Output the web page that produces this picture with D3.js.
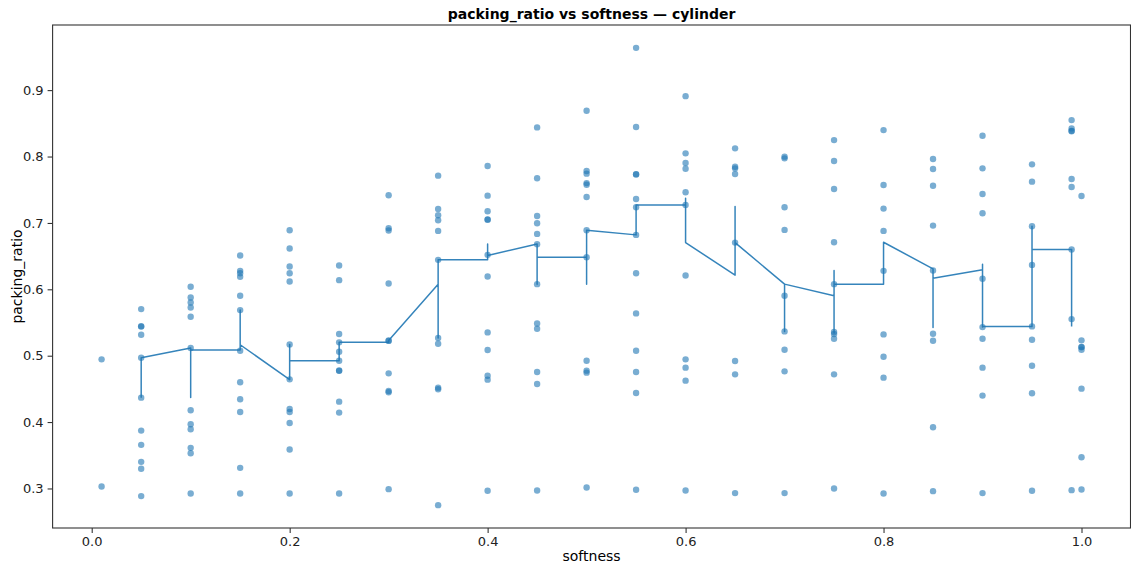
<!DOCTYPE html>
<html>
<head>
<meta charset="utf-8">
<script src="https://cdn.jsdelivr.net/npm/d3@7"></script>
<style>
  html, body { margin: 0; padding: 0; background: #fff; }
  svg { display: block; font-family: "DejaVu Sans", sans-serif; }
</style>
</head>
<body>
<svg id="chart" width="1131" height="567"></svg>
<script>
// Softness levels that were sampled
const softnessLevels = [0.01, 0.05, 0.10, 0.15, 0.20, 0.25, 0.30, 0.35, 0.40, 0.45, 0.50,
                        0.55, 0.60, 0.65, 0.70, 0.75, 0.80, 0.85, 0.90, 0.95, 0.99, 1.00];

// Measured packing ratios, one list per softness level
const packingRatios = [
  [0.4945, 0.3030],
  [0.5702, 0.5445, 0.5438, 0.5316, 0.4970, 0.4368, 0.3872, 0.3657, 0.3401, 0.3296, 0.2885],
  [0.6038, 0.5877, 0.5802, 0.5727, 0.5587, 0.5115, 0.4178, 0.3967, 0.3892, 0.3612, 0.3531, 0.2925],
  [0.6509, 0.6278, 0.6243, 0.6188, 0.5902, 0.5687, 0.5075, 0.4599, 0.4343, 0.4153, 0.3311, 0.2925],
  [0.6890, 0.6614, 0.6343, 0.6243, 0.6118, 0.5170, 0.4644, 0.4198, 0.4153, 0.3987, 0.3587, 0.2925],
  [0.6358, 0.6138, 0.5326, 0.5201, 0.5060, 0.4925, 0.4778, 0.4772, 0.4308, 0.4143, 0.2925],
  [0.7416, 0.6920, 0.6885, 0.6088, 0.5229, 0.5223, 0.4734, 0.4469, 0.4449, 0.2990],
  [0.7712, 0.7211, 0.7116, 0.7040, 0.6880, 0.6444, 0.5266, 0.5181, 0.4519, 0.4494, 0.2749],
  [0.7857, 0.7411, 0.7175, 0.7053, 0.7047, 0.6519, 0.6193, 0.5351, 0.5085, 0.4699, 0.4639, 0.2965],
  [0.8439, 0.7672, 0.7105, 0.6995, 0.6835, 0.6679, 0.6078, 0.5486, 0.5406, 0.4755, 0.4574, 0.2970],
  [0.8689, 0.7782, 0.7742, 0.7600, 0.7575, 0.7391, 0.6890, 0.6484, 0.4925, 0.4775, 0.4745, 0.3015],
  [0.9637, 0.8444, 0.7735, 0.7729, 0.7361, 0.7236, 0.6820, 0.6243, 0.5637, 0.5075, 0.4755, 0.4439, 0.2980],
  [0.8910, 0.8048, 0.7902, 0.7817, 0.7461, 0.7271, 0.6208, 0.4945, 0.4820, 0.4624, 0.2970],
  [0.8123, 0.7847, 0.7822, 0.7737, 0.6704, 0.4920, 0.4719, 0.2930],
  [0.7998, 0.7973, 0.7236, 0.6895, 0.5902, 0.5366, 0.5090, 0.4764, 0.2930],
  [0.8248, 0.7932, 0.7511, 0.6709, 0.6078, 0.5356, 0.5326, 0.5256, 0.4719, 0.3000],
  [0.8398, 0.7571, 0.7216, 0.6880, 0.6278, 0.5321, 0.4985, 0.4669, 0.2925],
  [0.7962, 0.7812, 0.7561, 0.6960, 0.6283, 0.5331, 0.5226, 0.3922, 0.2960],
  [0.8313, 0.7822, 0.7436, 0.7145, 0.6158, 0.5431, 0.5256, 0.4820, 0.4399, 0.2930],
  [0.7882, 0.7622, 0.6950, 0.6368, 0.5441, 0.5241, 0.4849, 0.4434, 0.2965],
  [0.8549, 0.8424, 0.8387, 0.8381, 0.7662, 0.7541, 0.6599, 0.5551, 0.2975],
  [0.7406, 0.5231, 0.5133, 0.5127, 0.5090, 0.4504, 0.3471, 0.2985]
];

// Running-average trend traced through the runs in softness order
const trendSoftness = [
  0.05, 0.05,
  0.10, 0.10, 0.10,
  0.15, 0.15, 0.15,
  0.20, 0.20, 0.20,
  0.25, 0.25,
  0.30, 0.30,
  0.35, 0.35, 0.35,
  0.40, 0.40, 0.40,
  0.45, 0.45, 0.45,
  0.50, 0.50, 0.50,
  0.55, 0.55,
  0.60, 0.60, 0.60,
  0.65, 0.65, 0.65,
  0.70, 0.70, 0.70,
  0.75, 0.75, 0.75, 0.75,
  0.80, 0.80,
  0.85, 0.85, 0.85,
  0.90, 0.90, 0.90, 0.90,
  0.95, 0.95, 0.95,
  0.99, 0.99
];
const trendRatio = [
  0.4368, 0.4970,
  0.5116, 0.4370, 0.5086,
  0.5086, 0.5687, 0.5165,
  0.4639, 0.5170, 0.4925,
  0.4925, 0.5201,
  0.5201, 0.5230,
  0.6078, 0.5266, 0.6444,
  0.6444, 0.6684, 0.6509,
  0.6684, 0.6078, 0.6484,
  0.6484, 0.6078, 0.6890,
  0.6820, 0.7271,
  0.7271, 0.7371, 0.6704,
  0.6213, 0.7246, 0.6704,
  0.6078, 0.5366, 0.6078,
  0.5902, 0.5341, 0.6283, 0.6078,
  0.6078, 0.6709,
  0.6308, 0.5426, 0.6168,
  0.6293, 0.6378, 0.5431, 0.5441,
  0.5441, 0.6950, 0.6599,
  0.6599, 0.5441
];

const xTicks = [0.0, 0.2, 0.4, 0.6, 0.8, 1.0];
const yTicks = [0.3, 0.4, 0.5, 0.6, 0.7, 0.8, 0.9];

const W = 1131, H = 567;
const plot = { left: 52.6, right: 1130.5, top: 25, bottom: 528 };
const blue = "#1f77b4";

const points = softnessLevels.flatMap((s, i) => packingRatios[i].map(r => ({ s, r })));

// Axis limits padded by 5% of the data span on each side
function padded(ext) {
  const m = (ext[1] - ext[0]) * 0.05;
  return [ext[0] - m, ext[1] + m];
}
const x = d3.scaleLinear()
  .domain(padded(d3.extent(points, d => d.s)))
  .range([plot.left, plot.right]);
const y = d3.scaleLinear()
  .domain(padded(d3.extent(points, d => d.r)))
  .range([plot.bottom, plot.top]);

const svg = d3.select("#chart");
svg.append("rect").attr("width", W).attr("height", H).attr("fill", "#fff");

// Scatter of every run
svg.append("g")
  .selectAll("circle")
  .data(points)
  .join("circle")
  .attr("cx", d => x(d.s))
  .attr("cy", d => y(d.r))
  .attr("r", 3.2)
  .attr("fill", blue)
  .attr("fill-opacity", 0.6);

// Trend line
const trend = trendSoftness.map((s, i) => [s, trendRatio[i]]);
svg.append("path")
  .datum(trend)
  .attr("fill", "none")
  .attr("stroke", blue)
  .attr("stroke-width", 1.5)
  .attr("stroke-opacity", 0.9)
  .attr("stroke-linejoin", "round")
  .attr("d", d3.line().x(d => x(d[0])).y(d => y(d[1])));

// Axes
const fmt = d3.format(".1f");
const xAxis = svg.append("g")
  .attr("transform", `translate(0,${plot.bottom})`)
  .call(d3.axisBottom(x).tickValues(xTicks).tickFormat(fmt).tickSize(5).tickPadding(4));
const yAxis = svg.append("g")
  .attr("transform", `translate(${plot.left},0)`)
  .call(d3.axisLeft(y).tickValues(yTicks).tickFormat(fmt).tickSize(5).tickPadding(4));

[xAxis, yAxis].forEach(g => {
  g.select(".domain").remove();
  g.selectAll(".tick line").attr("stroke", "#222");
  g.selectAll(".tick text").attr("fill", "#222")
    .style("font-family", '"DejaVu Sans", sans-serif').style("font-size", "13px");
});

// Frame around the plotting area
svg.append("rect")
  .attr("x", plot.left).attr("y", plot.top)
  .attr("width", plot.right - plot.left).attr("height", plot.bottom - plot.top)
  .attr("fill", "none").attr("stroke", "#333").attr("stroke-width", 1.1);

// Titles
const cx = (plot.left + plot.right) / 2;
svg.append("text")
  .attr("x", cx).attr("y", 19)
  .attr("text-anchor", "middle")
  .style("font-size", "14px").style("font-weight", "bold")
  .attr("fill", "#000")
  .text("packing_ratio vs softness — cylinder");

svg.append("text")
  .attr("x", cx).attr("y", 561)
  .attr("text-anchor", "middle")
  .style("font-size", "14px")
  .attr("fill", "#000")
  .text("softness");

svg.append("text")
  .attr("transform", `translate(22,${(plot.top + plot.bottom) / 2}) rotate(-90)`)
  .attr("text-anchor", "middle")
  .style("font-size", "14px")
  .attr("fill", "#000")
  .text("packing_ratio");
</script>
</body>
</html>
